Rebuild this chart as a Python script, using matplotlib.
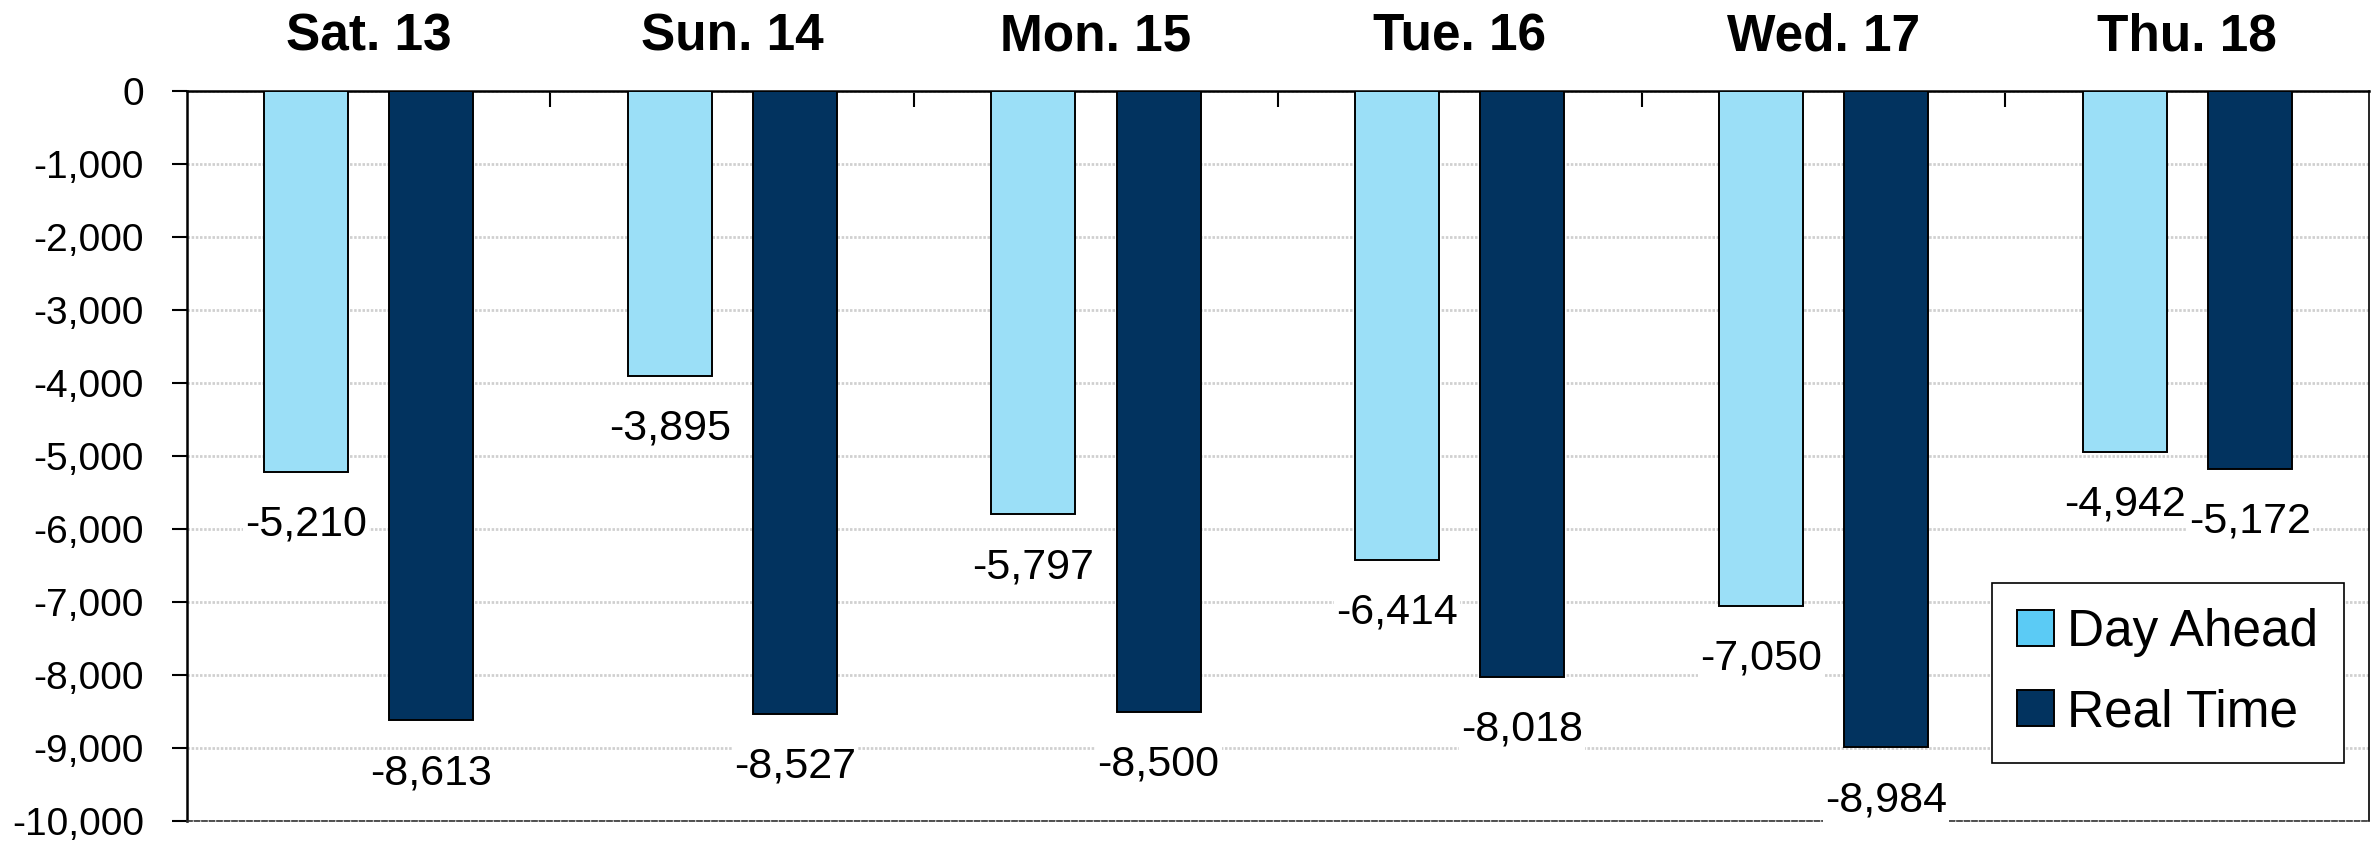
import matplotlib
matplotlib.use("Agg")
import matplotlib.pyplot as plt
from matplotlib.patches import Patch
import numpy as np

days = ["Sat. 13", "Sun. 14", "Mon. 15", "Tue. 16", "Wed. 17", "Thu. 18"]
day_ahead = [-5210, -3895, -5797, -6414, -7050, -4942]
real_time = [-8613, -8527, -8500, -8018, -8984, -5172]

da_color = "#9BDFF7"
da_legend_color = "#5BCBF5"
rt_color = "#02335F"

plt.rcParams["font.family"] = ["Liberation Sans", "DejaVu Sans"]

fig = plt.figure(figsize=(23.8, 8.47), dpi=100, facecolor="white")
ax = fig.add_axes([0.07845, 0.03011, 0.91693, 0.86245])

x = np.arange(len(days))
w = 0.231
off = 0.172
bars_da = ax.bar(x - off, day_ahead, w, color=da_color, edgecolor="black", linewidth=1.4, zorder=3)
bars_rt = ax.bar(x + off, real_time, w, color=rt_color, edgecolor="black", linewidth=1.4, zorder=3)

# value labels under each bar end
for bars, vals in ((bars_da, day_ahead), (bars_rt, real_time)):
    for b, v in zip(bars, vals):
        ax.annotate(f"{v:,}", (b.get_x() + b.get_width() / 2, v),
                    xytext=(0, -46), textcoords="offset points",
                    ha="center", va="baseline", fontsize=31, zorder=4,
                    bbox=dict(facecolor="white", edgecolor="none", pad=1.5))

ax.set_xlim(-0.5, len(days) - 0.5)
ax.set_ylim(-10000, 0)
ax.set_yticks(np.arange(-10000, 1, 1000))
ax.yaxis.set_major_formatter(matplotlib.ticker.FuncFormatter(lambda v, p: f"{int(v):,}"))
ax.tick_params(axis="y", direction="out", length=10.8, width=1.5, pad=20, labelsize=28)

# category names on top, boundary ticks pointing down into the plot
ax.xaxis.tick_top()
ax.set_xticks(x[:-1] + 0.5)
ax.set_xticklabels([])
ax.set_xticks(x, minor=True)
ax.set_xticklabels(days, minor=True, fontsize=37, fontweight="bold")
ax.tick_params(axis="x", which="major", direction="in", length=11.5, width=1.5)
ax.tick_params(axis="x", which="minor", length=0, pad=21.5)

ax.set_axisbelow(True)
ax.yaxis.grid(True, color="#D0D0D0", linewidth=2.0, linestyle=(0, (0.9, 0.6)))

ax.spines["top"].set_linewidth(1.8)
ax.spines["left"].set_linewidth(1.8)
ax.spines["right"].set_linewidth(1.2)
ax.spines["bottom"].set_linewidth(1.2)
ax.spines["bottom"].set_color("#333333")
ax.spines["bottom"].set_linestyle((0, (3, 1.5)))

handles = [Patch(facecolor=da_legend_color, edgecolor="black", linewidth=1.4),
           Patch(facecolor=rt_color, edgecolor="black", linewidth=1.4)]
leg = ax.legend(handles, ["Day Ahead", "Real Time"], loc="lower right",
                bbox_to_anchor=(0.9886, 0.0801), borderaxespad=0, fontsize=37,
                handlelength=0.72, handleheight=0.7, handletextpad=0.25,
                labelspacing=0.6, borderpad=0.5, fancybox=False, framealpha=1,
                edgecolor="black")
leg.get_frame().set_linewidth(1.2)

fig.savefig("out.png", dpi=100, facecolor="white")
